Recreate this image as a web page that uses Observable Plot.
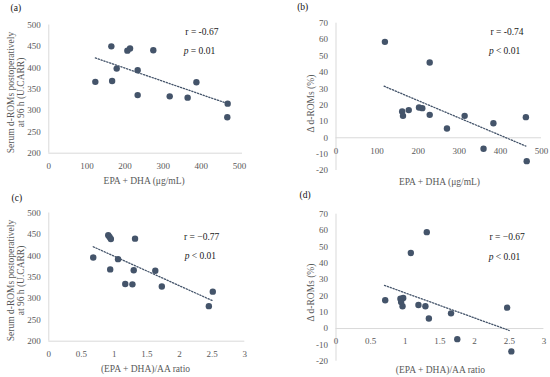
<!DOCTYPE html>
<html><head><meta charset="utf-8">
<script src="https://cdn.jsdelivr.net/npm/d3@7"></script>
<script src="https://cdn.jsdelivr.net/npm/@observablehq/plot@0.6"></script>
<style>
body{margin:0;background:#fff;}
#wrap{position:relative;width:550px;height:377px;overflow:hidden;background:#fff;}
.cell{position:absolute;}
</style></head><body><div id="wrap"></div>
<script>
// ---- data ----
// (a) EPA+DHA vs serum d-ROMs at 96 h
const aX = [164, 206, 213, 274, 178, 233, 122, 166, 233, 317, 364, 387, 469, 468];
const aY = [450, 440, 445, 441, 398, 394, 367, 369, 336, 333, 330, 366, 316, 284];
const aTrendX = [122, 469];
const aTrendY = [423, 316];
// (b) EPA+DHA vs delta d-ROMs
const bX = [119, 228, 161, 163, 177, 202, 210, 228, 270, 313, 359, 383, 462, 464];
const bY = [58.6, 46, 16.1, 13.4, 16.9, 18.5, 18.1, 14, 5.7, 13.4, -6.7, 8.9, 12.6, -14.3];
const bTrendX = [117, 462];
const bTrendY = [31.5, -5.1];
// (c) (EPA+DHA)/AA ratio vs serum d-ROMs at 96 h
const cX = [0.68, 0.91, 0.93, 0.95, 1.32, 1.06, 0.94, 1.30, 1.63, 1.17, 1.28, 1.73, 2.51, 2.45];
const cY = [396, 448, 444, 439, 440, 392, 368, 366, 365, 334, 333, 328, 316, 282];
const cTrendX = [0.68, 2.51];
const cTrendY = [421, 294.5];
// (d) (EPA+DHA)/AA ratio vs delta d-ROMs
const dX = [0.71, 0.93, 0.97, 0.94, 0.96, 1.08, 1.19, 1.29, 1.31, 1.34, 1.66, 1.75, 2.47, 2.53];
const dY = [17.3, 18.3, 18.7, 16.2, 13.6, 46.2, 14.4, 13.6, 59, 6.1, 9.3, -6.5, 12.8, -14];
const dTrendX = [0.70, 2.50];
const dTrendY = [26.4, -1.2];

const letters = ["(a)", "(b)", "(c)", "(d)"];
const rLabels = ["r = -0.67", "r = -0.74", "r = \u22120.77", "r = \u22120.67"];
const pLabels = ["= 0.01", "< 0.01", "< 0.01", "< 0.01"];
const xTitles = ["EPA + DHA (\u03bcg/mL)", "EPA + DHA (\u03bcg/mL)", "(EPA + DHA)/AA ratio", "(EPA + DHA)/AA ratio"];
const yTitles = ["Serum d-ROMs postoperatively\nat 96 h (U.CARR)", "\u0394 d-ROMs (%)", "Serum d-ROMs postoperatively\nat 96 h (U.CARR)", "\u0394 d-ROMs (%)"];
const xTicksConc = [0, 100, 200, 300, 400, 500];
const xTicksRatio = [0, 0.5, 1, 1.5, 2, 2.5, 3];
const yTicksSerum = [200, 250, 300, 350, 400, 450, 500];
const yTicksDelta = [-20, -10, 0, 10, 20, 30, 40, 50, 60, 70];
// ---------------------------------------

const DOT = "#44546a", GRAY = "#595959", AXIS = "#d9d9d9", FONT = "Liberation Serif, serif";

function panel(c) {
  const pts = c.xs.map((x, i) => ({x, y: c.ys[i]}));
  const trend = c.tx.map((x, i) => ({x, y: c.ty[i]}));
  return Plot.plot({
    width: c.w, height: c.h,
    marginLeft: c.ml, marginRight: c.mr, marginTop: c.mt, marginBottom: c.mb,
    x: {domain: c.xDomain, axis: null, insetRight: c.insetRight || 0},
    y: {domain: c.yDomain, axis: null},
    style: {fontFamily: FONT, background: "#fff", overflow: "visible"},
    marks: [
      Plot.ruleX([c.xDomain[0]], {stroke: AXIS, strokeWidth: 1}),
      Plot.ruleY([c.yBase], {stroke: AXIS, strokeWidth: 1}),
      Plot.text(c.yTicks, {x: c.xDomain[0], y: d => d, text: d => String(d), dx: -8, textAnchor: "end", fill: GRAY, fontSize: 9, fontFamily: FONT}),
      Plot.text(c.xTicks, {x: d => d, y: c.yBase, text: d => String(d), dy: 13, fill: GRAY, fontSize: 9, fontFamily: FONT}),
      Plot.line(trend, {x: "x", y: "y", stroke: DOT, strokeWidth: 1.3, strokeDasharray: "1.3,1.7"}),
      Plot.dot(pts, {x: "x", y: "y", r: 3.2, fill: DOT, stroke: "none"}),
      Plot.text([c.r], {x: c.rPos[0], y: c.rPos[1], text: d => d, textAnchor: "start", lineAnchor: "middle", fontSize: 9.5, fill: "#1a1a1a"}),
      Plot.text(["p"], {x: c.pPos[0], y: c.pPos[1], text: d => d, textAnchor: "start", lineAnchor: "middle", fontSize: 9.5, fontStyle: "italic", fill: "#1a1a1a"}),
      Plot.text([c.p], {x: c.pPos[0], y: c.pPos[1], text: d => d, dx: 7, textAnchor: "start", lineAnchor: "middle", fontSize: 9.5, fill: "#1a1a1a"}),
      Plot.text([c.letter], {frameAnchor: "top-left", text: d => d, dx: c.letterPos[0] - c.ml, dy: c.letterPos[1] - c.mt, textAnchor: "start", lineAnchor: "middle", fontSize: 9.5, fill: "#111"}),
      Plot.text([c.xTitle], {frameAnchor: "bottom", text: d => d, dx: c.xTitleDx, dy: c.xTitleDy, textAnchor: "middle", lineAnchor: "middle", fontSize: 9.5, fill: GRAY}),
      Plot.text([c.yTitle], {frameAnchor: "left", text: d => d, dx: c.yTitleX - c.ml, dy: c.yTitleDy, rotate: -90, textAnchor: "middle", lineAnchor: "middle", lineHeight: 1.08, fontSize: 9.5, fill: GRAY})
    ]
  });
}

const cfgs = [
  {left: 0, top: 0, w: 275, h: 188, ml: 48.3, mr: 33, mt: 24.5, mb: 35.3, insetRight: 3,
   xDomain: [0, 500], yDomain: [200, 500], yBase: 200, xTicks: xTicksConc, yTicks: yTicksSerum,
   xs: aX, ys: aY, tx: aTrendX, ty: aTrendY, r: rLabels[0], p: pLabels[0], rPos: [358, 483], pPos: [354, 440],
   letter: letters[0], letterPos: [10, 7], xTitle: xTitles[0], xTitleDx: -1.5, xTitleDy: 28,
   yTitle: yTitles[0], yTitleX: 15, yTitleDy: 3.4},
  {left: 275, top: 0, w: 275, h: 188, ml: 60.5, mr: 9, mt: 22.7, mb: 18,
   xDomain: [0, 500], yDomain: [-20, 70], yBase: 0, xTicks: xTicksConc, yTicks: yTicksDelta,
   xs: bX, ys: bY, tx: bTrendX, ty: bTrendY, r: rLabels[1], p: pLabels[1], rPos: [376, 64.5], pPos: [372, 53.1],
   letter: letters[1], letterPos: [21.7, 6.7], xTitle: xTitles[1], xTitleDx: 0.7, xTitleDy: 11.5,
   yTitle: yTitles[1], yTitleX: 35, yTitleDy: 6.7},
  {left: 0, top: 188, w: 275, h: 189, ml: 48.3, mr: 30.7, mt: 24.5, mb: 36.3,
   xDomain: [0, 3], yDomain: [200, 500], yBase: 200, xTicks: xTicksRatio, yTicks: yTicksSerum,
   xs: cX, ys: cY, tx: cTrendX, ty: cTrendY, r: rLabels[2], p: pLabels[2], rPos: [2.07, 443.4], pPos: [2.08, 399],
   letter: letters[2], letterPos: [11, 9], xTitle: xTitles[2], xTitleDx: -1.3, xTitleDy: 28,
   yTitle: yTitles[2], yTitleX: 15, yTitleDy: 3.4},
  {left: 275, top: 188, w: 275, h: 189, ml: 60.5, mr: 6.6, mt: 25.7, mb: 16.3,
   xDomain: [0, 3], yDomain: [-20, 70], yBase: 0, xTicks: xTicksRatio, yTicks: yTicksDelta,
   xs: dX, ys: dY, tx: dTrendX, ty: dTrendY, r: rLabels[3], p: pLabels[3], rPos: [2.215, 56], pPos: [2.205, 44],
   letter: letters[3], letterPos: [24, 6.7], xTitle: xTitles[3], xTitleDx: 0.5, xTitleDy: 8.5,
   yTitle: yTitles[3], yTitleX: 35, yTitleDy: 4.8}
];

const wrap = document.getElementById("wrap");
for (const c of cfgs) {
  const div = document.createElement("div");
  div.className = "cell";
  div.style.left = c.left + "px";
  div.style.top = c.top + "px";
  div.appendChild(panel(c));
  wrap.appendChild(div);
}
</script>
</body></html>
